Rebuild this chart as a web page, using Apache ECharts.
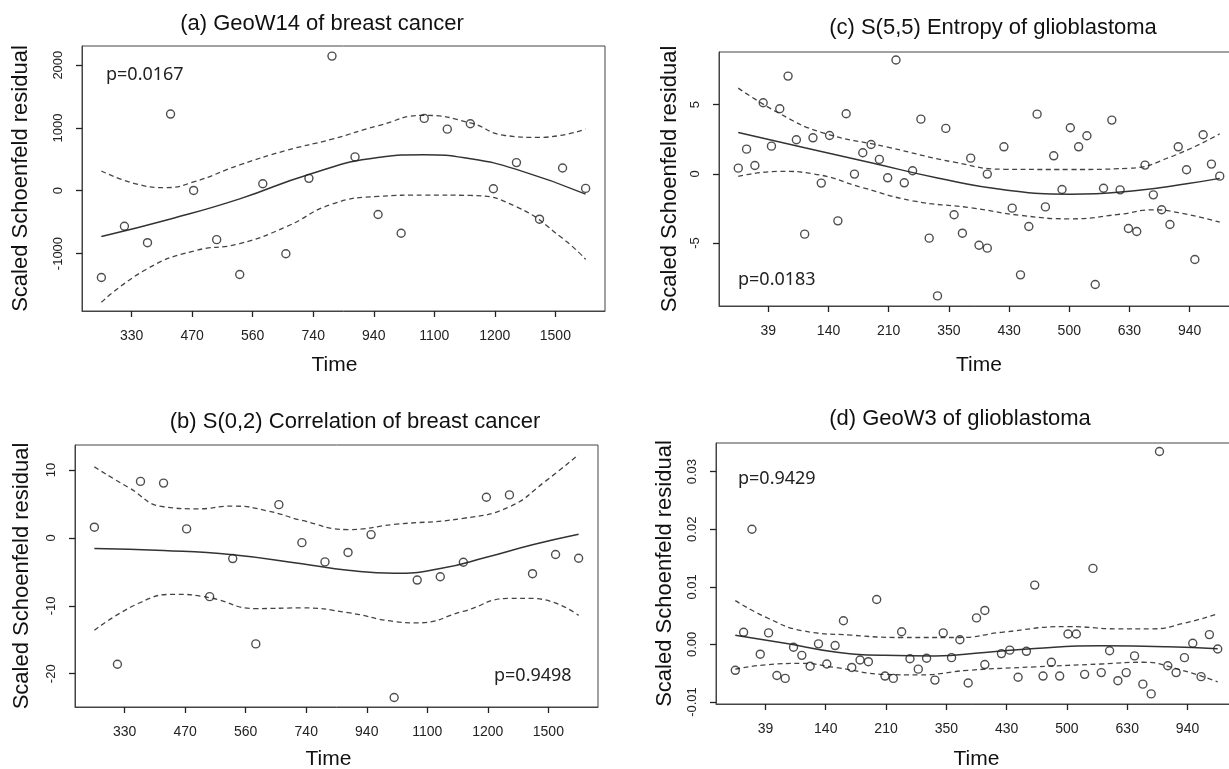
<!DOCTYPE html>
<html lang="en">
<head>
<meta charset="utf-8">
<title>Scaled Schoenfeld residuals</title>
<script src="https://cdn.jsdelivr.net/npm/echarts@6/dist/echarts.min.js"></script>
<style>
  html, body { margin: 0; padding: 0; background: #fff; }
  #main { width: 1229px; height: 769px; }
</style>
</head>
<body>
<div id="main"></div>
<script>
// rank of event time (as plotted by cox.zph) and the time labels on the x axis
var breastX = [0,1,2,3,4,5,6,7,8,9,10,11,12,13,14,15,16,17,18,19,20,21];
var breastTicks = ['330','470','560','740','940','1100','1200','1500'];
var gbmX = [0,1,2,3,4,5,6,7,8,9,10,11,12,13,14,15,16,17,18,19,20,21,22,23,24,25,26,27,28,29,30,30,
            32,33,34,35,36,37,38,39,40,41,42,43,44,45,46,47,48,49,50,51,52,53,54,55,56,57,58];
var gbmTicks = ['39','140','210','350','430','500','630','940'];

// (a) GeoW14 of breast cancer
var aResid = [-1381,-565,-827,1221,5,-779,-1333,112,-1003,197,2144,539,-379,-677,1152,981,1067,32,448,-453,363,37];
var aFit   = [[0,-730],[3,-450],[6,-130],[9,260],[12,530],[14,575],[16,510],[18,340],[21,-53]];
var aUpper = [[0,315],[1.5,110],[2.8,50],[4,140],[6,411],[8,640],[10,821],[12,1035],[14,1200],[16,1080],[17.5,880],[19,850],[21,982]];
var aLower = [[0,-1776],[2,-1240],[4,-960],[6,-843],[8,-576],[10,-213],[12,-91],[14,-69],[16,-75],[18,-255],[20,-758],[21,-1092]];
var aYTicks = [-1000,0,1000,2000];

// (b) S(0,2) Correlation of breast cancer
var bResid = [1.59,-18.6,8.34,8.09,1.34,-8.64,-3.03,-15.6,4.91,-0.69,-3.52,-2.13,0.50,-23.5,-6.20,-5.71,-3.57,6.0,6.35,-5.26,-2.43,-2.98];
var bFit   = [[0,-1.54],[3,-1.84],[6,-2.48],[9,-3.8],[11,-4.75],[13,-5.2],[15,-4.5],[17,-2.85],[19,-1.0],[21,0.55]];
var bUpper = [[0,10.47],[1.5,7.4],[3,4.6],[4.5,4.3],[6,4.7],[7.5,4.0],[9,2.6],[11,1.24],[13,2.0],[16,2.9],[18,4.6],[19.5,8.2],[21,12.3]];
var bLower = [[0,-13.6],[2,-9.5],[3.5,-8.3],[5,-8.8],[7,-10.4],[9,-10.3],[11,-11.0],[13,-12.3],[14,-12.5],[16,-10.8],[18,-8.9],[19,-8.9],[21,-11.4]];
var bYTicks = [-20,-10,0,10];

// (c) S(5,5) Entropy of glioblastoma
var cResid = [0.41,1.78,0.60,5.13,2.00,4.70,7.06,2.46,-4.36,2.60,-0.67,2.77,-3.40,4.34,-0.02,1.52,2.12,1.04,-0.29,8.22,
              -0.65,0.22,3.95,-4.65,-8.82,3.28,-2.96,-4.29,1.13,-5.16,-5.37,-0.02,
              1.95,-2.48,-7.30,-3.81,4.31,-2.39,1.30,-1.13,3.33,1.95,2.75,-8.00,-1.04,3.88,-1.16,-3.95,-4.17,0.63,
              -1.52,-2.60,-3.66,1.95,0.29,-6.19,2.82,0.70,-0.17];
var cFit   = [[0,2.99],[8,1.88],[16,0.8],[24,-0.3],[32,-1.15],[40,-1.47],[48,-1.2],[54,-0.72],[58,-0.33]];
var cUpper = [[0,6.19],[5,4.35],[10,3.0],[18,1.93],[26,0.84],[32,0.33],[40,0.31],[47,0.4],[52,1.2],[58,2.89]];
var cLower = [[0,-0.19],[5,0.18],[9,0.0],[15,-1.0],[21,-1.95],[28,-2.45],[34,-3.0],[40,-3.25],[46,-2.92],[50,-2.6],[53,-2.8],[58,-3.49]];
var cYTicks = [-5,0,5];

// (d) GeoW3 of glioblastoma
var dResid = [-0.0045,0.0021,0.0200,-0.0017,0.0020,-0.0054,-0.0059,-0.0005,-0.0019,-0.0038,
              0.0001,-0.0034,-0.0002,0.0041,-0.0040,-0.0027,-0.0030,0.0078,-0.0055,-0.0059,
              0.0022,-0.0025,-0.0043,-0.0024,-0.0062,0.0020,-0.0023,0.0008,-0.0067,0.0046,0.0059,-0.0035,
              -0.0016,-0.0010,-0.0057,-0.0012,0.0103,-0.0055,-0.0031,-0.0055,0.0018,0.0018,
              -0.0052,0.0132,-0.0049,-0.0011,-0.0063,-0.0049,-0.0020,-0.0069,-0.0086,0.0335,
              -0.0037,-0.0049,-0.0023,0.0002,-0.0056,0.0017,-0.0008];
var dFit   = [[0,0.0016],[6,0.0002],[12,-0.0013],[18,-0.0019],[24,-0.002],[30,-0.0014],[36,-0.0007],[44,-0.00025],[52,-0.0004],[58,-0.00076]];
var dUpper = [[0,0.0076],[4,0.0045],[8,0.0024],[14,0.0016],[20,0.0012],[27,0.0012],[32,0.0021],[40,0.0031],[46,0.0027],[50,0.0027],[54,0.0037],[58,0.0053]];
var dLower = [[0,-0.0043],[4,-0.0035],[8,-0.0033],[12,-0.004],[18,-0.0052],[22,-0.0053],[28,-0.0045],[36,-0.0039],[44,-0.0034],[49,-0.0031],[53,-0.0042],[58,-0.0065]];
var dYTicks = [-0.01,0,0.01,0.02,0.03];

var FONT = '"Liberation Sans", Arial, Helvetica, sans-serif';

function pairs(xs, ys) {
    return xs.map(function (x, i) { return [x, ys[i]]; });
}
// cox.zph puts 8 time labels at the even points of a 17 point grid over the x range
function tickPositions(xMax) {
    var out = [];
    for (var k = 0; k < 8; k++) out.push((2 * k + 1) / 16 * xMax);
    return out;
}

var panels = [
    {title: '(a) GeoW14 of breast cancer', tx: 322, ty: 24,
     grid: {left: 82, top: 46, width: 523, height: 265},
     xs: breastX, ticks: breastTicks, yMin: -1915, yMax: 2305, yTicks: aYTicks,
     resid: aResid, fit: aFit, up: aUpper, lo: aLower,
     p: 'p=0.0167', px: 106, py: 75, yGap: 50, xGap: 44, timePad: 18},
    {title: '(b) S(0,2) Correlation of breast cancer', tx: 355, ty: 422,
     grid: {left: 75, top: 445, width: 523, height: 262},
     xs: breastX, ticks: breastTicks, yMin: -24.9, yMax: 13.7, yTicks: bYTicks,
     resid: bResid, fit: bFit, up: bUpper, lo: bLower,
     p: 'p=0.9498', px: 494, py: 676, yGap: 42, xGap: 42, timePad: 16},
    {title: '(c) S(5,5) Entropy of glioblastoma', tx: 993, ty: 28,
     grid: {left: 719, top: 52, width: 520, height: 254},
     xs: gbmX, ticks: gbmTicks, yMin: -9.55, yMax: 8.8, yTicks: cYTicks,
     resid: cResid, fit: cFit, up: cUpper, lo: cLower,
     p: 'p=0.0183', px: 738, py: 280, yGap: 38, xGap: 49, timePad: 0},
    {title: '(d) GeoW3 of glioblastoma', tx: 960, ty: 419,
     grid: {left: 716, top: 443, width: 521, height: 261},
     xs: gbmX, ticks: gbmTicks, yMin: -0.01035, yMax: 0.03498, yTicks: dYTicks, yDigits: 2,
     resid: dResid, fit: dFit, up: dUpper, lo: dLower,
     p: 'p=0.9429', px: 738, py: 479, yGap: 40, xGap: 45, timePad: 0}
];

var grids = [], xAxes = [], yAxes = [], series = [], texts = [];

panels.forEach(function (pn, i) {
    var xMax = pn.xs[pn.xs.length - 1];
    var tpos = tickPositions(xMax);

    grids.push(Object.assign({
        show: true, borderColor: '#444', borderWidth: 1, backgroundColor: 'transparent',
        containLabel: false, outerBoundsMode: 'none'
    }, pn.grid));

    xAxes.push({
        gridIndex: i, type: 'value', position: 'bottom',
        min: -0.04 * xMax, max: 1.04 * xMax,
        axisLine: {show: true, onZero: false, lineStyle: {color: '#444', width: 1}},
        splitLine: {show: false},
        axisTick: {show: true, inside: false, length: 6, customValues: tpos, lineStyle: {color: '#222', width: 1.3}},
        axisLabel: {
            customValues: tpos, margin: 18, fontSize: 14, color: '#222', fontFamily: FONT,
            formatter: function (v) {
                for (var k = 0; k < tpos.length; k++) {
                    if (Math.abs(tpos[k] - v) < 1e-6) return pn.ticks[k];
                }
                return '';
            }
        },
        name: 'Time', nameLocation: 'middle', nameGap: pn.xGap,
        nameTextStyle: {fontSize: 21, color: '#111', fontFamily: FONT, padding: [0, pn.timePad, 0, 0]}
    });

    yAxes.push({
        gridIndex: i, type: 'value', position: 'left', min: pn.yMin, max: pn.yMax,
        axisLine: {show: true, onZero: false, lineStyle: {color: '#444', width: 1}},
        splitLine: {show: false},
        axisTick: {show: true, inside: false, length: 6, customValues: pn.yTicks, lineStyle: {color: '#222', width: 1.3}},
        axisLabel: {
            customValues: pn.yTicks, rotate: 90, margin: 17, fontSize: 13, color: '#222', fontFamily: FONT,
            formatter: function (v) {
                return pn.yDigits ? v.toFixed(pn.yDigits) : String(v);
            }
        },
        name: 'Scaled Schoenfeld residual', nameLocation: 'middle', nameGap: pn.yGap,
        nameTextStyle: {fontSize: 22, color: '#111', fontFamily: FONT}
    });

    series.push({
        type: 'scatter', xAxisIndex: i, yAxisIndex: i, silent: true, z: 4,
        data: pairs(pn.xs, pn.resid),
        symbol: 'circle', symbolSize: 8,
        itemStyle: {color: 'rgba(0,0,0,0)', borderColor: '#222', borderWidth: 1.4}
    });
    series.push({
        type: 'line', xAxisIndex: i, yAxisIndex: i, silent: true, z: 3,
        data: pn.fit, showSymbol: false, smooth: 0.5,
        lineStyle: {color: '#333', width: 1.5}
    });
    [pn.up, pn.lo].forEach(function (band) {
        series.push({
            type: 'line', xAxisIndex: i, yAxisIndex: i, silent: true, z: 3,
            data: band, showSymbol: false, smooth: 0.5,
            lineStyle: {color: '#444', width: 1.3, type: [5, 3.5]}
        });
    });

    texts.push({
        type: 'text', x: pn.tx, y: pn.ty,
        style: {text: pn.title, font: '22px ' + FONT, fill: '#111', textAlign: 'center', textVerticalAlign: 'middle'}
    });
    texts.push({
        type: 'text', x: pn.px, y: pn.py,
        style: {text: pn.p, font: '18px "Noto Sans", sans-serif', fill: '#222', textAlign: 'left', textVerticalAlign: 'middle'}
    });
});

var chart = echarts.init(document.getElementById('main'));
chart.setOption({
    animation: false,
    backgroundColor: '#fff',
    grid: grids,
    xAxis: xAxes,
    yAxis: yAxes,
    series: series,
    graphic: {elements: texts}
});
</script>
</body>
</html>
